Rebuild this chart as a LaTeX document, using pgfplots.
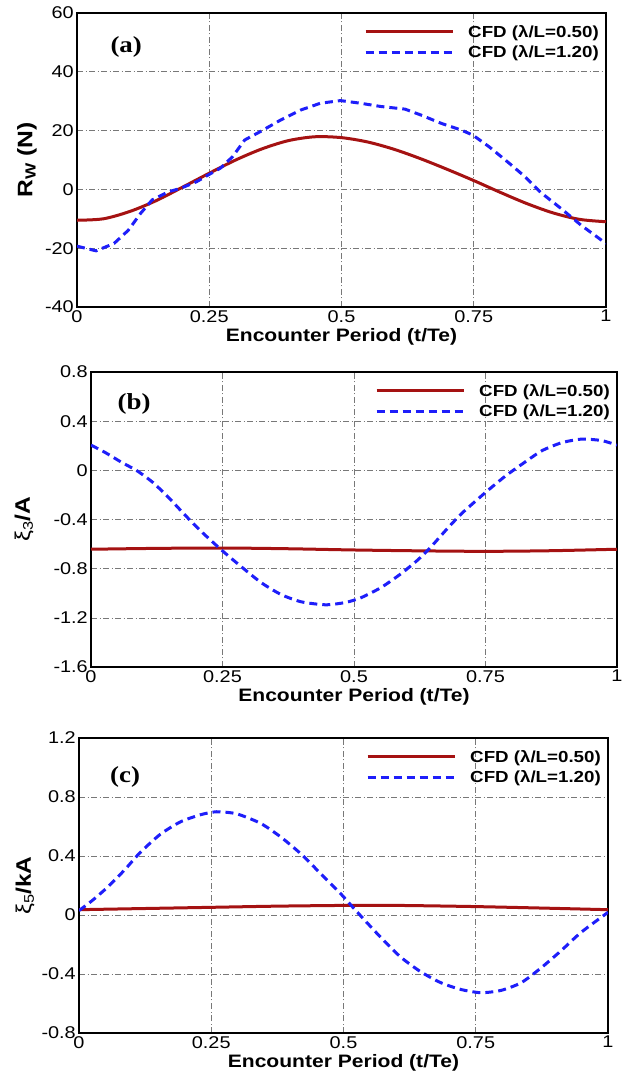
\documentclass[border=0pt]{standalone}
\usepackage{fontspec}
\setmainfont{Liberation Sans}[FakeStretch=1.17]
\newfontfamily\serifb{Liberation Serif}[FakeStretch=1.17]
\usepackage{pgfplots}
\pgfplotsset{compat=1.18}
\definecolor{cfdred}{RGB}{165,18,18}
\definecolor{cfdblue}{RGB}{30,30,250}
\definecolor{gridgray}{RGB}{120,120,120}
\pgfplotsset{
  myax/.style={
    scale only axis, width=529pt, height=295pt,
    xmin=0, xmax=1,
    xtick={0,0.25,0.5,0.75,1}, xticklabels={0,0.25,0.5,0.75,1},
    grid=major,
    grid style={gridgray, line width=0.6pt, dash pattern=on 6pt off 2.5pt on 1pt off 2.5pt},
    major tick length=0pt,
    axis line style={line width=1.3pt},
    tick label style={font=\fontsize{17}{19}\selectfont},
    yticklabel style={inner sep=3pt},
    xticklabel style={inner sep=3pt},
    xlabel={Encounter Period (t/Te)},
    xlabel style={at={(axis description cs:0.5,-0.102)}, anchor=center, font=\fontsize{18}{20}\selectfont\bfseries},
    ylabel style={anchor=center, font=\fontsize{21}{23}\selectfont\bfseries},
    legend style={at={(axis description cs:1,1)}, anchor=north east, xshift=-7pt, yshift=-12pt,
      draw=none, fill=none, inner sep=0pt, row sep=7pt,
      nodes={inner sep=0pt, font=\fontsize{16}{18}\selectfont\bfseries},
      /tikz/every odd column/.append style={column sep=14pt}},
    legend cell align=left,
    legend image code/.code={\draw[##1] (0pt,0pt) -- (87pt,0pt);},
  },
  redl/.style={cfdred, line width=3pt, smooth},
  bluel/.style={cfdblue, line width=3pt, dash pattern=on 8pt off 5pt},
}
\begin{document}
\begin{tikzpicture}
\useasboundingbox (0,0) rectangle (629pt,1076pt);
% ---------- (a)
\begin{axis}[myax, at={(77pt,769pt)}, anchor=south west, height=294pt,
  ymin=-40, ymax=60, ytick={-40,-20,0,20,40,60}, yticklabels={-40,-20,0,20,40,60},
  ylabel={R\textsubscript{W} (N)}, ylabel style={at={(axis description cs:-0.0945,0.5)}}]
\addplot[redl] coordinates {(0,-10.5) (0.05,-10) (0.1,-7.5) (0.15,-3.8) (0.2,0.8) (0.25,5.5) (0.3,10) (0.35,13.8) (0.4,16.6) (0.45,17.9) (0.5,17.6) (0.55,16.1) (0.6,13.6) (0.65,10.4) (0.7,6.8) (0.75,3) (0.8,-1) (0.85,-4.8) (0.9,-8) (0.95,-10.2) (1,-11)};
\addlegendentry{CFD (λ/L=0.50)}
\addplot[bluel] coordinates {(0,-19.3) (0.036,-20.9) (0.07,-18.4) (0.097,-13.9) (0.12,-8.2) (0.142,-3.6) (0.173,-0.8) (0.195,0.3) (0.226,2.6) (0.248,4.9) (0.271,7.2) (0.294,11.1) (0.317,16.8) (0.347,19.7) (0.385,23.6) (0.423,27) (0.46,29.3) (0.498,30.2) (0.536,29.3) (0.574,28.2) (0.62,27.3) (0.65,25.3) (0.688,22.5) (0.726,20.2) (0.748,18.5) (0.779,14.5) (0.817,8.9) (0.847,4.3) (0.877,-1.1) (0.915,-6.5) (0.953,-12.2) (1,-18.4)};
\addlegendentry{CFD (λ/L=1.20)}
\node[font=\fontsize{23}{25}\selectfont\serifb\bfseries] at (rel axis cs:0.093,0.883) {(a)};
\end{axis}
% ---------- (b)
\begin{axis}[myax, at={(91pt,409pt)}, anchor=south west, width=526pt,
  ymin=-1.6, ymax=0.8, ytick={-1.6,-1.2,-0.8,-0.4,0,0.4,0.8}, yticklabels={-1.6,-1.2,-0.8,-0.4,0,0.4,0.8},
  ylabel={{\mdseries ξ\raisebox{-3pt}{\fontsize{14}{14}\selectfont 3}}/A}, ylabel style={at={(axis description cs:-0.127,0.5)}}]
\addplot[redl] coordinates {(0,-0.642) (0.125,-0.635) (0.25,-0.632) (0.375,-0.638) (0.5,-0.648) (0.625,-0.655) (0.75,-0.659) (0.875,-0.654) (1,-0.642)};
\addlegendentry{CFD (λ/L=0.50)}
\addplot[bluel, smooth, tension=0.4] coordinates {(0,0.205) (0.027,0.145) (0.057,0.068) (0.088,-0.005) (0.118,-0.1) (0.149,-0.228) (0.179,-0.365) (0.209,-0.495) (0.248,-0.648) (0.286,-0.785) (0.324,-0.915) (0.362,-1.012) (0.4,-1.07) (0.446,-1.094) (0.484,-1.075) (0.514,-1.035) (0.552,-0.952) (0.59,-0.839) (0.621,-0.73) (0.644,-0.634) (0.674,-0.49) (0.705,-0.35) (0.75,-0.18) (0.788,-0.046) (0.819,0.049) (0.857,0.159) (0.895,0.225) (0.933,0.254) (0.971,0.242) (1,0.205)};
\addlegendentry{CFD (λ/L=1.20)}
\node[font=\fontsize{23}{25}\selectfont\serifb\bfseries] at (rel axis cs:0.082,0.89) {(b)};
\end{axis}
% ---------- (c)
\begin{axis}[myax, at={(79pt,43pt)}, anchor=south west,
  ymin=-0.8, ymax=1.2, ytick={-0.8,-0.4,0,0.4,0.8,1.2}, yticklabels={-0.8,-0.4,0,0.4,0.8,1.2},
  ylabel={{\mdseries ξ\raisebox{-3pt}{\fontsize{14}{14}\selectfont 5}}/kA}, ylabel style={at={(axis description cs:-0.102,0.5)}}]
\addplot[redl] coordinates {(0,0.036) (0.125,0.044) (0.25,0.052) (0.375,0.06) (0.5,0.065) (0.55,0.066) (0.625,0.064) (0.75,0.057) (0.875,0.047) (1,0.036)};
\addlegendentry{CFD (λ/L=0.50)}
\addplot[bluel, smooth, tension=0.4] coordinates {(0,0.03) (0.025,0.098) (0.055,0.192) (0.086,0.305) (0.116,0.425) (0.154,0.548) (0.192,0.632) (0.23,0.68) (0.26,0.7) (0.298,0.686) (0.343,0.622) (0.381,0.53) (0.419,0.416) (0.457,0.28) (0.495,0.143) (0.517,0.055) (0.54,-0.035) (0.57,-0.15) (0.608,-0.285) (0.646,-0.385) (0.684,-0.459) (0.722,-0.505) (0.76,-0.527) (0.798,-0.511) (0.836,-0.459) (0.873,-0.36) (0.911,-0.243) (0.949,-0.118) (1,0.018)};
\addlegendentry{CFD (λ/L=1.20)}
\node[font=\fontsize{23}{25}\selectfont\serifb\bfseries] at (rel axis cs:0.087,0.868) {(c)};
\end{axis}
\end{tikzpicture}
\end{document}
